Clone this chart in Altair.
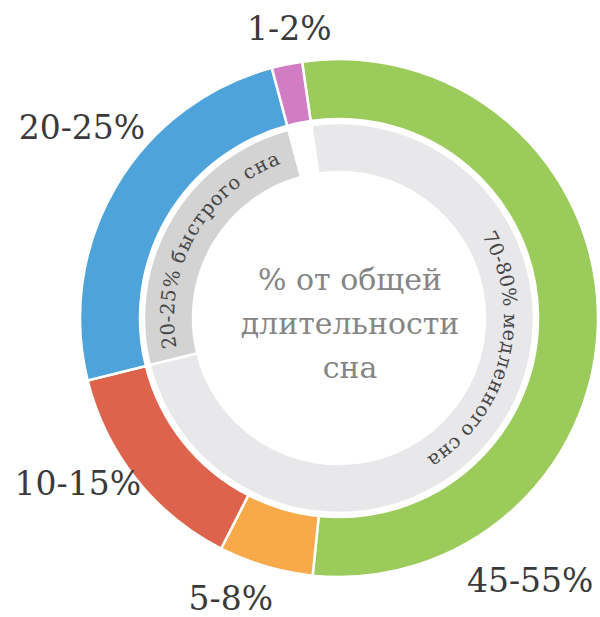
import math
import altair as alt
import pandas as pd

# Outer ring: sleep stages, % of total sleep duration
stage_labels = ["45-55%", "5-8%", "10-15%", "20-25%", "1-2%"]
stage_values = [53.9, 5.9, 13.6, 24.7, 1.9]
stage_colors = ["#9BCB5B", "#F8AA4B", "#DD634D", "#4DA3DA", "#D27DC3"]

# Inner ring: slow vs fast sleep (last piece is the empty gap)
phase_labels = ["70-80% медленного сна", "20-25% быстрого сна", ""]
phase_values = [73.4, 24.7, 1.9]
phase_colors = ["#E8E8EA", "#D3D3D3", "#FFFFFF"]

center_lines = ["% от общей", "длительности", "сна"]

# ---- layout constants -------------------------------------------------
S_DEG = -8.2                      # angle where the first slice starts
CX, CY = 339, 318                 # centre of the donut
theta_scale = alt.Scale(domain=[0, 100],
                        range=[math.radians(S_DEG), math.radians(S_DEG) + 2 * math.pi])

def deg_to_pct(deg):
    return (deg - S_DEG) / 360.0 * 100.0

df_outer = pd.DataFrame({"idx": range(len(stage_values)), "value": stage_values,
                         "color": stage_colors, "label": stage_labels})
df_inner = pd.DataFrame({"idx": range(len(phase_values)), "value": phase_values,
                         "color": phase_colors})

# outer labels placement (angle in degrees clockwise from top, radius in px)
label_angle = [144.1, 201, 237.4, 306.3, 350.2]
label_radius = [326, 302, 310, 319, 292]
df_lab = pd.DataFrame({"label": stage_labels,
                       "pct": [deg_to_pct(a) for a in label_angle],
                       "r": label_radius})

# curved text along the inner ring
char_w = {"0": .636, "1": .636, "2": .636, "5": .636, "7": .636, "8": .636,
          "-": .338, "%": .95, " ": .318,
          "а": .596, "б": .617, "г": .53, "д": .69, "е": .592, "л": .7, "м": .8,
          "н": .72, "о": .602, "р": .64, "с": .56, "т": .6, "ы": .87}
curved = [(phase_labels[0], 104.0, 88.0), (phase_labels[1], 299.5, 80.0)]
rows = []
for txt, center, span in curved:
    ws = [char_w.get(c, .62) for c in txt]
    total = sum(ws)
    cum = 0.0
    for c, w in zip(txt, ws):
        a = center - span / 2 + span * (cum + w / 2) / total
        cum += w
        rows.append({"ch": c, "pct": deg_to_pct(a), "rot": a % 360})
df_curve = pd.DataFrame(rows)

outer = alt.Chart(df_outer).mark_arc(radius=259, radius2=199, stroke="white", strokeWidth=2.5).encode(
    theta=alt.Theta("value:Q", stack=True, scale=theta_scale),
    color=alt.Color("color:N", scale=None),
    order=alt.Order("idx:Q"),
    x=alt.value(CX), y=alt.value(CY),
)

inner = alt.Chart(df_inner).mark_arc(radius=195, radius2=146, stroke="white", strokeWidth=2.5).encode(
    theta=alt.Theta("value:Q", stack=True, scale=theta_scale),
    color=alt.Color("color:N", scale=None),
    order=alt.Order("idx:Q"),
    x=alt.value(CX), y=alt.value(CY),
)

curve_text = alt.Chart(df_curve).mark_text(
    radius=171, font="DejaVu Serif", fontSize=19.5, color="#454545",
    align="center", baseline="middle").encode(
    theta=alt.Theta("pct:Q", stack=False, scale=theta_scale),
    angle=alt.Angle("rot:Q", scale=None),
    text=alt.Text("ch:N"),
    x=alt.value(CX), y=alt.value(CY),
)

labels = alt.Chart(df_lab).mark_text(
    font="DejaVu Serif", fontSize=33, color="#3A3A3A",
    align="center", baseline="middle").encode(
    theta=alt.Theta("pct:Q", stack=False, scale=theta_scale),
    radius=alt.Radius("r:Q", scale=None),
    text=alt.Text("label:N"),
    x=alt.value(CX), y=alt.value(CY),
)

center = alt.Chart(pd.DataFrame({"t": [0]})).mark_text(
    font="DejaVu Serif", fontSize=30, color="#858585", align="center",
    baseline="middle", lineHeight=44).encode(
    text=alt.value(center_lines),
    x=alt.value(350), y=alt.value(281),
)

chart = alt.layer(outer, inner, curve_text, labels, center).properties(
    width=600, height=617, padding=0,
    autosize=alt.AutoSizeParams(type="none"),
    background="white",
).configure_view(stroke=None)

chart.save("out.html", embed_options={"renderer": "svg", "actions": False})
